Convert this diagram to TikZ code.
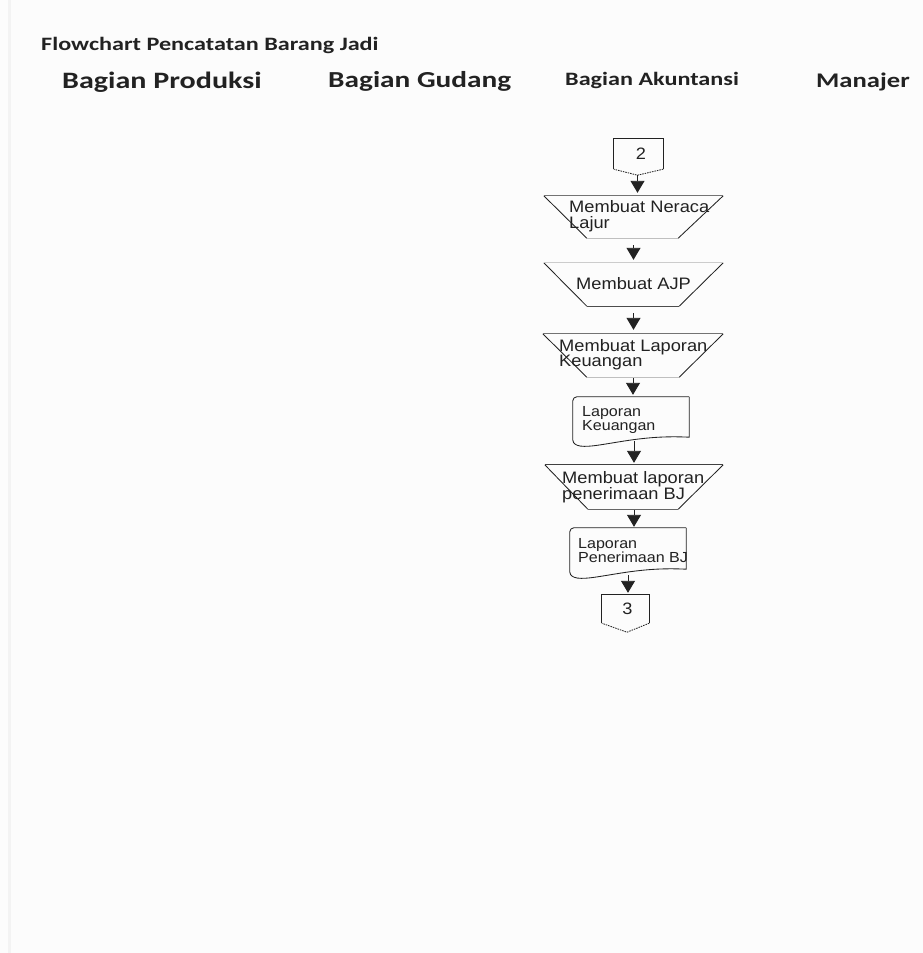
\documentclass[tikz,border=0pt]{standalone}
\usepackage{fontspec}
\usetikzlibrary{arrows.meta,calc}
\newfontfamily\hdfont[FakeStretch=1.28]{Carlito}
\newfontfamily\flfont[FakeStretch=1.1]{Liberation Sans}
\definecolor{bg}{HTML}{FCFCFC}
\definecolor{band}{HTML}{F3F3F3}
\definecolor{ink}{HTML}{222222}
\newcommand\drawtrap[5]{%
  \draw[slant] (#1.north west) -- ($(#1.south west)+(#2,0)$);
  \draw[slant] (#1.north east) -- ($(#1.south east)+(-#3,0)$);
  \draw[hedge, draw=#4] (#1.north west) -- (#1.north east);
  \draw[hedge, draw=#5] ($(#1.south west)+(#2,0)$) -- ($(#1.south east)+(-#3,0)$);
}
\newcommand\drawdoc[1]{%
  \draw[slant, rounded corners=4pt] (#1.south west) -- (#1.north west) -- (#1.north east);
  \draw[slant] (#1.north east) -- ($(#1.south east)+(0,-3)$)
    .. controls ($(#1.south east)+(-39,-5)$) and ($(#1.south)+(-6,1)$) .. ($(#1.south)+(-33,5)$)
    .. controls ($(#1.south)+(-47,7)$) and ($(#1.south west)+(1,7)$) .. (#1.south west);
}
\newcommand\drawconn[2]{%
  \draw[slant] (#1.south west) -- (#1.north west) -- (#1.north east) -- (#1.south east);
  \draw[slant, dash pattern=on 1.5pt off 1pt] (#1.south east) -- (#2) -- (#1.south west);
}
\begin{document}
\begin{tikzpicture}[x=1pt,y=-1pt,
  hd/.style={font=\hdfont\bfseries, text=ink, inner sep=0pt, anchor=base west},
  fl/.style={font=\flfont\fontsize{16.6}{18}\selectfont, text=ink, inner sep=0pt, anchor=base west},
  dl/.style={font=\flfont\fontsize{14.6}{16}\selectfont, text=ink, inner sep=0pt, anchor=base west},
  dg/.style={font=\flfont\fontsize{16.5}{18}\selectfont, text=ink, inner sep=0pt, anchor=base},
  shapebox/.style={draw=none, inner sep=0pt},
  slant/.style={draw=ink, line width=0.85pt},
  hedge/.style={line width=0.85pt},
  arr/.style={draw=ink, line width=0.9pt, -{Triangle[length=12pt,width=14pt]}}
]
\fill[bg] (0,0) rectangle (923,953);
\fill[band] (8,0) rectangle (10.5,953);
\useasboundingbox (0,0) rectangle (923,953);

% headings
\node[hd, font=\hdfont\bfseries\fontsize{18.9}{20}\selectfont] (title) at (41,50) {Flowchart Pencatatan Barang Jadi};
\node[hd, font=\hdfont\bfseries\fontsize{23.5}{25}\selectfont] (hprod) at (62,88) {Bagian Produksi};
\node[hd, font=\hdfont\bfseries\fontsize{22.9}{24}\selectfont] (hgud) at (328,87) {Bagian Gudang};
\node[hd, font=\hdfont\bfseries\fontsize{18.9}{20}\selectfont] (hakt) at (565,85) {Bagian Akuntansi};
\node[hd, font=\hdfont\bfseries\fontsize{20.8}{23}\selectfont] (hman) at (816,87) {Manajer};

% shape boxes
\node[shapebox, minimum width=49pt, minimum height=30pt] (c2) at (638.5,154) {};
\node[shapebox, minimum width=179pt, minimum height=42pt] (t1) at (633.5,217) {};
\node[shapebox, minimum width=179pt, minimum height=43pt] (t2) at (633.5,284.5) {};
\node[shapebox, minimum width=180pt, minimum height=43pt] (t3) at (633,355.5) {};
\node[shapebox, minimum width=116pt, minimum height=43pt] (d1) at (631,418.5) {};
\node[shapebox, minimum width=178pt, minimum height=44pt] (t4) at (634,487) {};
\node[shapebox, minimum width=116pt, minimum height=44pt] (d2) at (628,550) {};
\node[shapebox, minimum width=47pt, minimum height=28pt] (c3) at (625.5,609) {};
\coordinate (c2tip) at ($(c2.south)+(-1,6)$);
\coordinate (c3tip) at ($(c3.south)+(1.5,9)$);

% outlines
\drawconn{c2}{c2tip}
\drawtrap{t1}{43}{45}{black!55}{black!25}
\drawtrap{t2}{43}{44}{black!20}{black!70}
\drawtrap{t3}{44}{44}{black!55}{black!25}
\drawdoc{d1}
\drawtrap{t4}{43}{45}{black!75}{black!60}
\drawdoc{d2}
\drawconn{c3}{c3tip}

% texts
\node[dg] (c2txt) at (641,159) {2};
\node[fl] (t1a) at (569,212) {Membuat Neraca};
\node[fl] (t1b) at (569,228) {Lajur};
\node[fl] (t2a) at (576,289) {Membuat AJP};
\node[fl] (t3a) at (559,351) {Membuat Laporan};
\node[fl] (t3b) at (559,366) {Keuangan};
\node[dl] (d1a) at (582,416) {Laporan};
\node[dl] (d1b) at (582,430) {Keuangan};
\node[fl] (t4a) at (562,483) {Membuat laporan};
\node[fl] (t4b) at (562,499) {penerimaan BJ};
\node[dl] (d2a) at (578,548) {Laporan};
\node[dl] (d2b) at (578,562) {Penerimaan BJ};
\node[dg] (c3txt) at (627.5,614) {3};

% arrows
\draw[arr, shorten >=3pt] (c2tip) -- (c2tip |- t1.north);
\draw[arr, shorten <=7pt, shorten >=3pt] (t1.south) -- (t2.north);
\draw[arr, shorten <=7pt, shorten >=4pt] (t2.south) -- (t2.south |- t3.north);
\draw[arr, shorten <=1pt, shorten >=2pt] (t3.south) -- (t3.south |- d1.north);
\draw[arr, shorten <=1pt, shorten >=2pt] (t4.north |- d1.south) -- (t4.north);
\draw[arr, shorten <=1pt, shorten >=1pt] (t4.south) -- (t4.south |- d2.north);
\draw[arr, shorten <=3pt, shorten >=2pt] (d2.south) -- (d2.south |- c3.north);
\end{tikzpicture}
\end{document}
